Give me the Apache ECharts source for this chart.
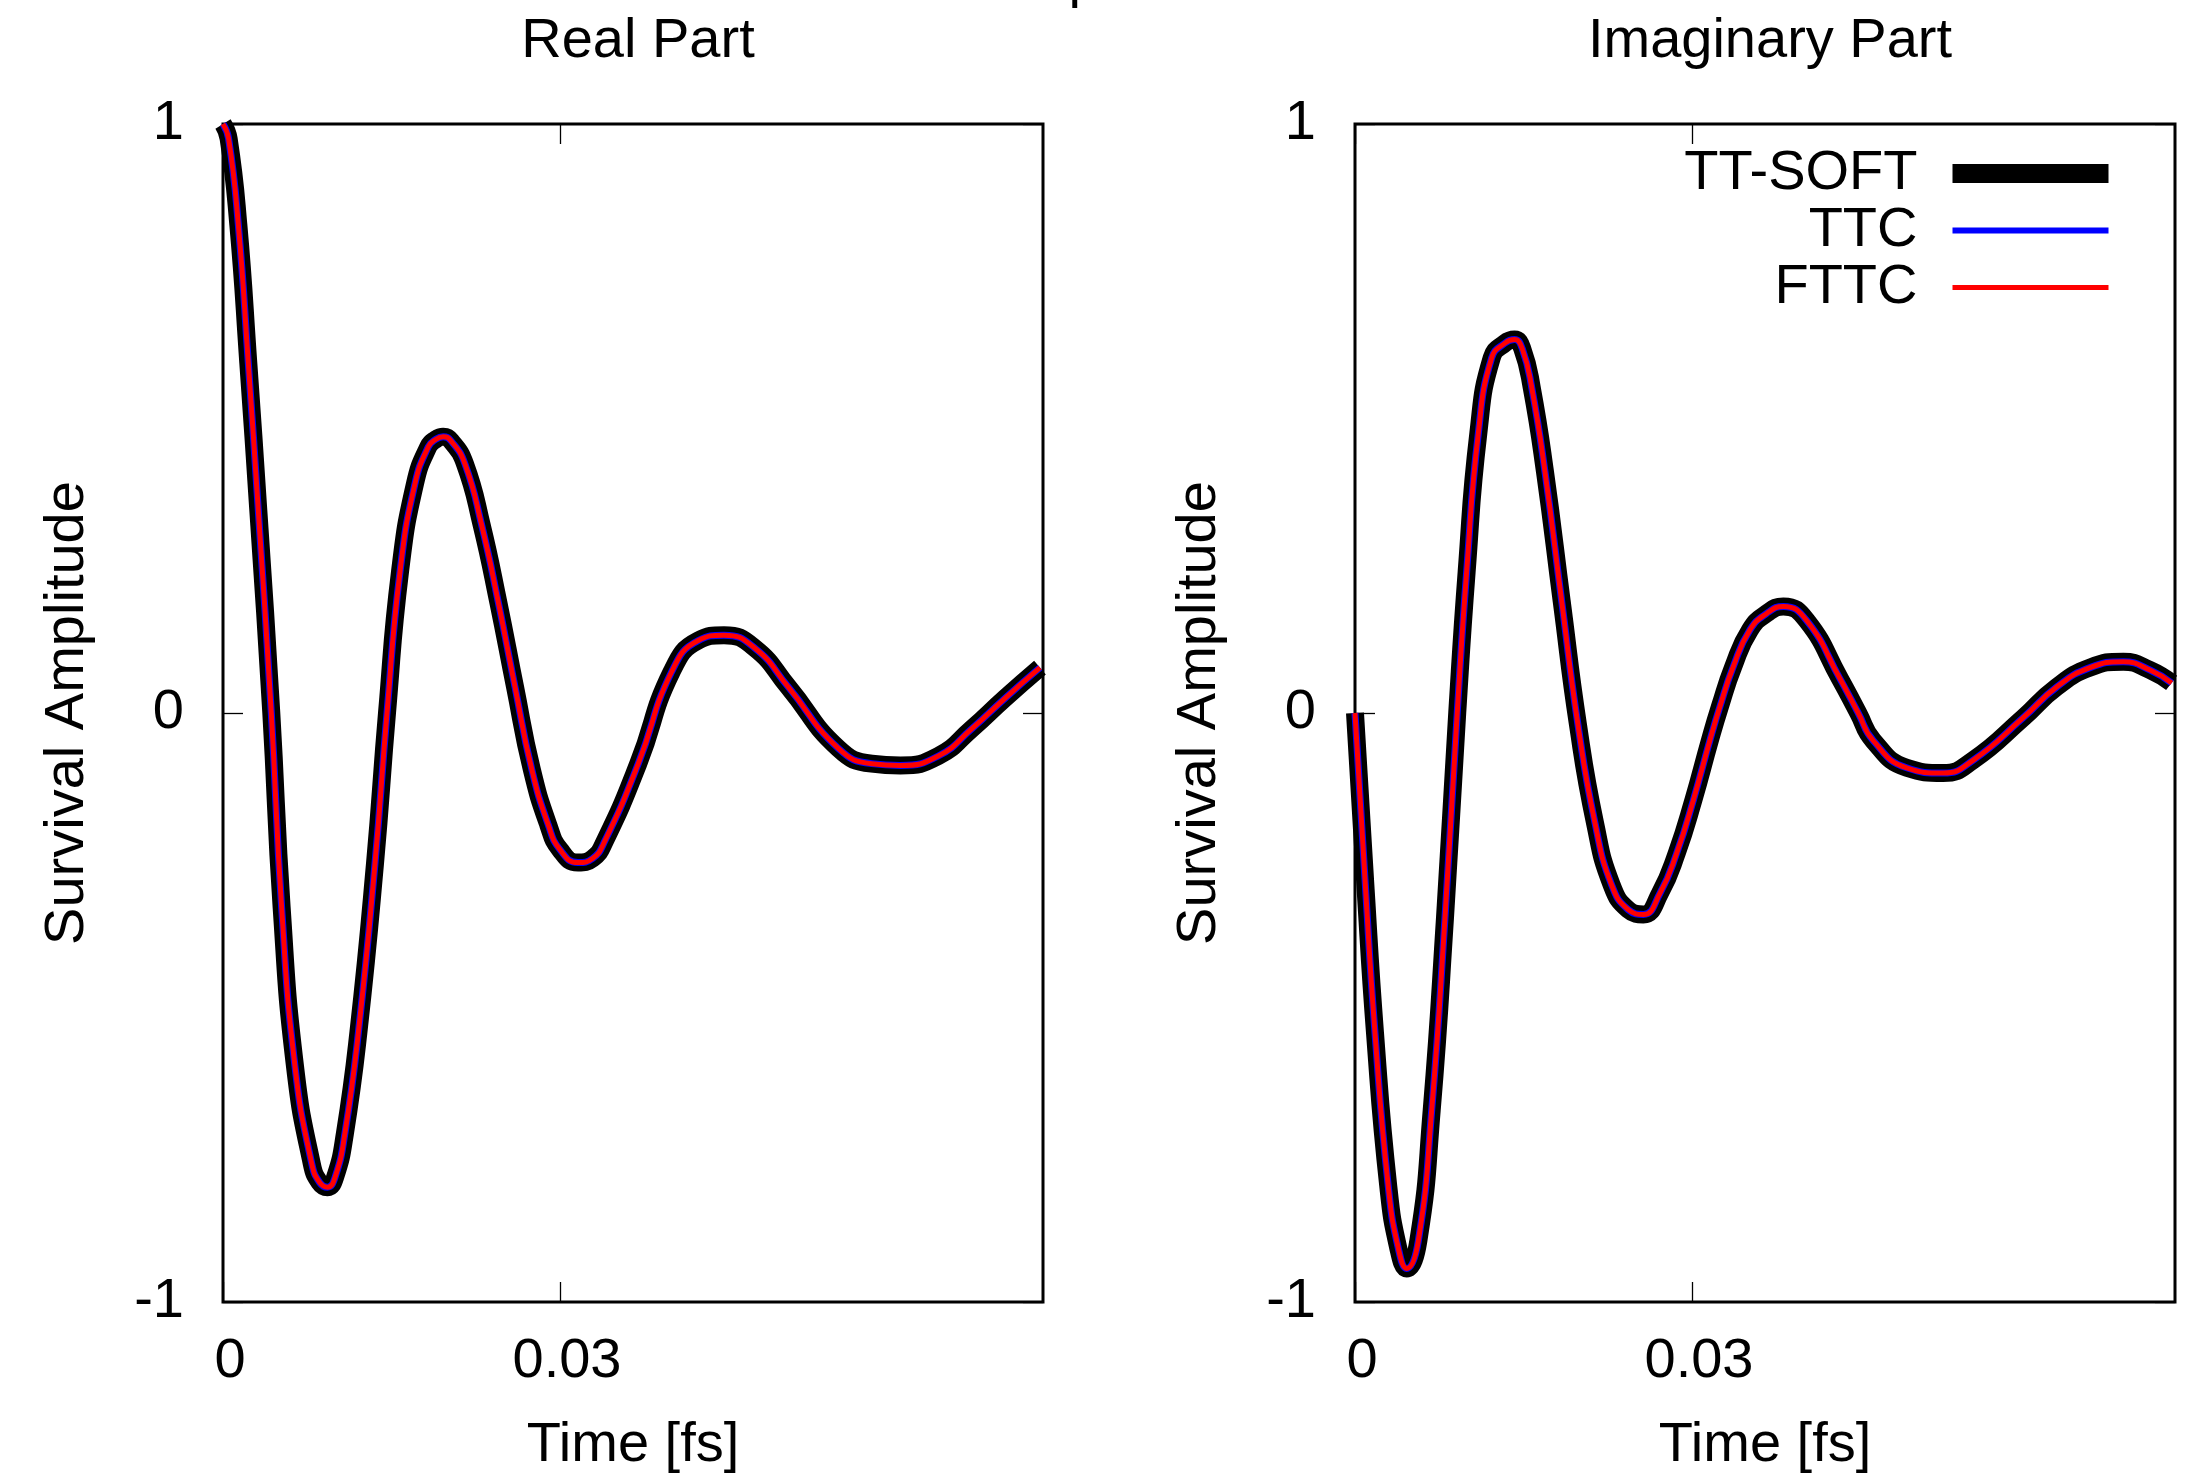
<!DOCTYPE html>
<html><head><meta charset="utf-8">
<script src="https://cdn.jsdelivr.net/npm/echarts@6/dist/echarts.min.js"></script>
<style>html,body{margin:0;padding:0;background:#fff}#c{width:2196px;height:1473px}</style>
</head><body><div id="c"></div>
<script>
const seriesNames = ['TT-SOFT', 'TTC', 'FTTC'];
const panelTitles = ['Real Part', 'Imaginary Part'];
const xAxisName = 'Time [fs]';
const yAxisName = 'Survival Amplitude';
const xTicks = [0, 0.03];
const yTicks = [-1, 0, 1];

// [time (fs), amplitude]
const realPart = [
  [0, 1.0], [0.0005, 0.975], [0.00136, 0.83], [0.00225, 0.595], [0.00314, 0.345],
  [0.0043, 0.0], [0.00522, -0.33], [0.00641, -0.6], [0.0079, -0.765], [0.0086, -0.797],
  [0.0093, -0.805], [0.01, -0.787], [0.01086, -0.713], [0.01205, -0.543], [0.01353, -0.256],
  [0.0146, 0.0], [0.01576, 0.24], [0.0171, 0.39], [0.01828, 0.452], [0.0189, 0.464],
  [0.0196, 0.469], [0.0203, 0.462], [0.02154, 0.423], [0.02303, 0.319], [0.02451, 0.188],
  [0.026, 0.044], [0.02748, -0.095], [0.02896, -0.19], [0.03, -0.232], [0.0316, -0.254],
  [0.0329, -0.247], [0.034, -0.217], [0.03697, -0.086], [0.03994, 0.07], [0.04231, 0.123],
  [0.0446, 0.132], [0.04736, 0.11], [0.05033, 0.044], [0.05478, -0.06], [0.05775, -0.086],
  [0.0603, -0.089], [0.06368, -0.073], [0.06665, -0.027], [0.06961, 0.025], [0.07273, 0.077]
];
const imagPart = [
  [0, 0.0], [0.00089, -0.282], [0.00178, -0.543], [0.00297, -0.805], [0.00386, -0.909],
  [0.0046, -0.943], [0.00564, -0.896], [0.00683, -0.674], [0.00801, -0.348], [0.0091, 0.0],
  [0.00994, 0.24], [0.01098, 0.475], [0.01217, 0.603], [0.01335, 0.628], [0.0142, 0.634],
  [0.0149, 0.618], [0.01573, 0.553], [0.01691, 0.41], [0.0184, 0.19], [0.01985, -0.02],
  [0.02137, -0.187], [0.02285, -0.292], [0.02433, -0.334], [0.02567, -0.342], [0.02715, -0.306],
  [0.02864, -0.238], [0.03012, -0.148], [0.0316, -0.046], [0.03249, 0.011], [0.03368, 0.079],
  [0.03516, 0.141], [0.03665, 0.169], [0.03813, 0.181], [0.04021, 0.157], [0.04318, 0.058],
  [0.0448, 0.0], [0.04614, -0.047], [0.04911, -0.093], [0.05237, -0.102], [0.05504, -0.08],
  [0.05949, -0.008], [0.06246, 0.044], [0.06543, 0.077], [0.0684, 0.087], [0.07077, 0.073],
  [0.0727, 0.051]
];
const panels = [
  { 'TT-SOFT': realPart, 'TTC': realPart, 'FTTC': realPart },
  { 'TT-SOFT': imagPart, 'TTC': imagPart, 'FTTC': imagPart }
];

const FONT = 'Liberation Sans';
const FS = 56;
const styles = {
  'TT-SOFT': { color: '#000000', width: 18, legendWidth: 19 },
  'TTC': { color: '#0000ff', width: 7, legendWidth: 6 },
  'FTTC': { color: '#ff0000', width: 5, legendWidth: 5 }
};
const gridLefts = [223, 1355];
const GW = 820, GT = 124, GH = 1178;
const XMAX = 0.073;

const grids = [], xAxes = [], yAxes = [], series = [], titles = [];
panels.forEach((p, i) => {
  grids.push({ left: gridLefts[i], top: GT, width: GW, height: GH, show: true,
    outerBoundsMode: 'none', containLabel: false,
    borderColor: '#000', borderWidth: 3, backgroundColor: 'transparent' });
  titles.push({ text: panelTitles[i], left: gridLefts[i] + GW / 2, top: 9, textAlign: 'center',
    textStyle: { fontFamily: FONT, fontSize: FS, lineHeight: 56, fontWeight: 'normal', color: '#000' } });
  const tickBase = { show: true, inside: true, length: 20, lineStyle: { color: '#000', width: 1.3 } };
  const lineOff = { show: false, onZero: false };
  xAxes.push({ gridIndex: i, type: 'value', position: 'bottom', min: 0, max: XMAX,
    name: xAxisName, nameLocation: 'middle', nameGap: 116,
    nameTextStyle: { fontFamily: FONT, fontSize: FS, lineHeight: 56, color: '#000' },
    axisLine: lineOff, splitLine: { show: false },
    axisTick: Object.assign({ customValues: xTicks }, tickBase),
    axisLabel: { customValues: xTicks, margin: 32, fontFamily: FONT, fontSize: FS, lineHeight: 56,
      color: '#000', padding: [0, 0, 0, 14], formatter: v => String(v) } });
  xAxes.push({ gridIndex: i, type: 'value', position: 'top', min: 0, max: XMAX,
    axisLine: lineOff, splitLine: { show: false },
    axisTick: Object.assign({ customValues: xTicks }, tickBase),
    axisLabel: { show: false } });
  yAxes.push({ gridIndex: i, type: 'value', position: 'left', min: -1, max: 1,
    name: yAxisName, nameLocation: 'middle', nameGap: 127,
    nameTextStyle: { fontFamily: FONT, fontSize: FS, lineHeight: 56, color: '#000' },
    axisLine: lineOff, splitLine: { show: false },
    axisTick: Object.assign({ customValues: yTicks }, tickBase),
    axisLabel: { customValues: yTicks, margin: 39, fontFamily: FONT, fontSize: FS, color: '#000',
      formatter: v => String(v) } });
  yAxes.push({ gridIndex: i, type: 'value', position: 'right', min: -1, max: 1,
    axisLine: lineOff, splitLine: { show: false },
    axisTick: Object.assign({ customValues: yTicks }, tickBase),
    axisLabel: { show: false } });
  seriesNames.forEach(n => {
    series.push({ name: n, type: 'line', xAxisIndex: i * 2, yAxisIndex: i * 2,
      data: p[n], showSymbol: false, symbol: 'none', smooth: 0.5, clip: false,
      lineStyle: { color: styles[n].color, width: styles[n].width, join: 'round', cap: 'butt' },
      itemStyle: { color: styles[n].color } });
  });
});
titles.push({ text: 'p', left: 1079, top: -52, textAlign: 'center',
  textStyle: { fontFamily: FONT, fontSize: FS, lineHeight: 56, fontWeight: 'normal', color: '#000' } });

const chart = echarts.init(document.getElementById('c'), null, { renderer: 'canvas' });
chart.setOption({
  animation: false,
  backgroundColor: '#fff',
  title: titles,
  grid: grids,
  xAxis: xAxes,
  yAxis: yAxes,
  legend: {
    orient: 'vertical', right: 78, top: 145, align: 'right', padding: 0,
    itemWidth: 156, itemHeight: 2, itemGap: 0,
    textStyle: { fontFamily: FONT, fontSize: FS, lineHeight: 57, color: '#000', padding: [0, 30, 0, 0] },
    data: seriesNames.map(n => ({ name: n, itemStyle: { opacity: 0 },
      lineStyle: { width: styles[n].legendWidth, color: styles[n].color, opacity: 1 } }))
  },
  series: series
});
</script>
</body></html>
